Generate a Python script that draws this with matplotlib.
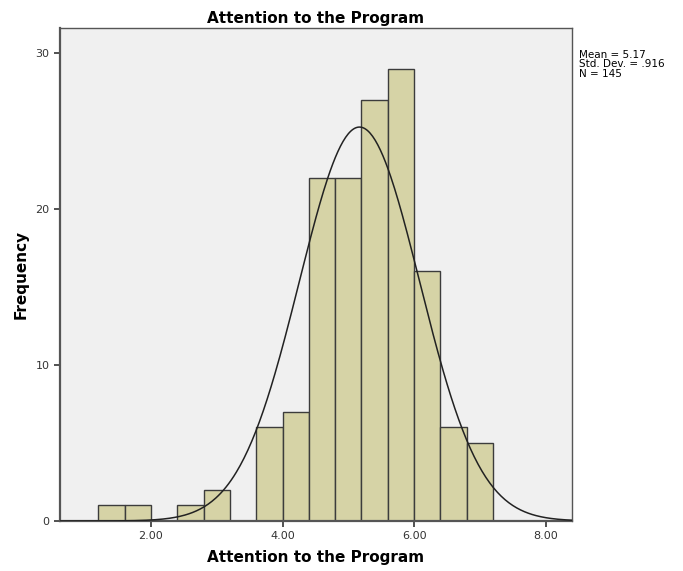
import numpy as np
import matplotlib
matplotlib.use("Agg")
import matplotlib.pyplot as plt

# histogram bins (width 0.4) and counts
bin_edges = [1.2, 1.6, 2.0, 2.4, 2.8, 3.2, 3.6, 4.0, 4.4, 4.8, 5.2, 5.6, 6.0, 6.4, 6.8, 7.2]
counts = [1, 1, 0, 1, 2, 0, 6, 7, 22, 22, 27, 29, 16, 6, 5]
mean = 5.17
std = 0.916
n = 145

x_ticks = [2.0, 4.0, 6.0, 8.0]
x_labels = ["2.00", "4.00", "6.00", "8.00"]
y_ticks = [0, 10, 20, 30]

fig = plt.figure(figsize=(6.83, 5.71), dpi=100)
ax = fig.add_axes([0.0878, 0.0876, 0.7496, 0.863])
ax.set_facecolor("#f0f0f0")

lefts = np.array(bin_edges[:-1])
widths = np.diff(bin_edges)
ax.bar(lefts, counts, width=widths, align="edge", color="#d6d3a6",
       edgecolor="#3c3c3c", linewidth=1.0, zorder=2)

# normal curve scaled to counts
xs = np.linspace(0.6, 8.4, 400)
bw = 0.4
ys = n * bw / (std * np.sqrt(2 * np.pi)) * np.exp(-0.5 * ((xs - mean) / std) ** 2)
ax.plot(xs, ys, color="#222222", linewidth=1.1, zorder=3)

ax.set_xlim(0.617, 8.40)
ax.set_ylim(0, 31.6)
ax.set_xticks(x_ticks)
ax.set_xticklabels(x_labels)
ax.set_yticks(y_ticks)
ax.tick_params(axis="both", labelsize=8, colors="#333333", length=4, width=1.2,
               labelcolor="#333333")

for s in ax.spines.values():
    s.set_color("#555555")
    s.set_linewidth(1.0)
ax.spines["left"].set_linewidth(1.6)
ax.spines["bottom"].set_linewidth(1.6)

ax.set_title("Attention to the Program", fontsize=11, fontweight="bold", pad=4)
ax.set_xlabel("Attention to the Program", fontsize=11, fontweight="bold", labelpad=6)
ax.set_ylabel("Frequency", fontsize=11, fontweight="bold", labelpad=5)

fig.text(0.848, 0.913, "Mean = 5.17\nStd. Dev. = .916\nN = 145",
         fontsize=7.5, va="top", ha="left", linespacing=0.95)

fig.savefig("out.png", dpi=100)
